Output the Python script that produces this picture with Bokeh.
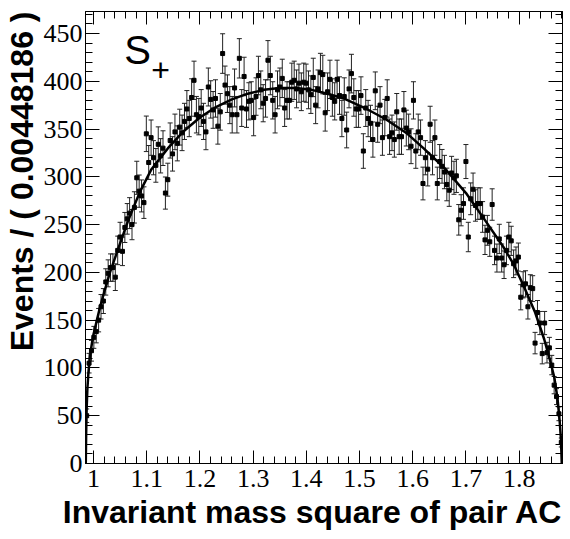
from bokeh.plotting import figure
from bokeh.models import Range1d, LinearAxis, FixedTicker, SingleIntervalTicker, Title, Label, ColumnDataSource
from bokeh.embed import file_html
from bokeh.resources import INLINE
import math

# ---- data ----
bin_width = 0.00448186
x_lo = 0.985
n_bins = 200
x_hi = x_lo + n_bins * bin_width

counts = [
    50, 105, 118, 132, 138, 150, 164, 170, 190, 199,
    205, 205, 195, 223, 237, 222, 247, 256, 262, 250,
    268, 299, 285, 280, 273, 345, 315, 341, 320, 312,
    334, 322, 330, 283, 297, 338, 324, 347, 335, 352,
    346, 358, 371, 361, 383, 401, 365, 363, 372, 358,
    347, 394, 381, 370, 382, 353, 368, 429, 396, 387,
    375, 365, 393, 365, 424, 372, 405, 371, 379, 380,
    362, 384, 406, 391, 377, 382, 422, 406, 380, 365,
    391, 394, 403, 372, 380, 380, 399, 401, 392, 398,
    389, 399, 398, 391, 386, 404, 375, 392, 409, 407,
    367, 389, 402, 383, 379, 402, 385, 361, 384, 349,
    392, 408, 383, 371, 371, 385, 327, 372, 361, 356,
    339, 390, 355, 375, 341, 362, 382, 342, 346, 339,
    368, 342, 342, 370, 351, 347, 332, 380, 327, 347,
    341, 293, 320, 308, 355, 320, 341, 293, 316, 311,
    305, 292, 286, 304, 299, 301, 255, 265, 272, 316,
    237, 277, 287, 270, 272, 272, 258, 234, 244, 232,
    271, 223, 215, 235, 215, 208, 223, 237, 233, 209,
    212, 216, 174, 187, 188, 164, 184, 183, 126, 158,
    147, 115, 147, 116, 121, 103, 82, 70, 52, 22,
]

curve_x = [0.9855, 0.9862, 0.9870, 0.9885, 0.9905, 0.9930, 0.9960, 1.000, 1.006, 1.012,
           1.021, 1.031, 1.046, 1.065, 1.087, 1.109, 1.140, 1.170, 1.200, 1.230,
           1.260, 1.290, 1.320, 1.350, 1.380, 1.410, 1.440, 1.470, 1.510, 1.550,
           1.590, 1.620, 1.660, 1.700, 1.734, 1.771, 1.790, 1.809, 1.830, 1.847,
           1.858, 1.866, 1.872, 1.876, 1.8785, 1.8800]
curve_y = [0, 30, 55, 78, 95, 110, 122, 135, 149, 163,
           181, 200, 224, 254, 284, 308, 330, 348, 362, 373,
           381, 387, 391, 393, 393, 391, 387, 382, 372, 360,
           345, 330, 309, 283, 256, 226, 208, 185, 158, 130,
           108, 90, 68, 45, 25, 0]

x_ticks = [1.0, 1.1, 1.2, 1.3, 1.4, 1.5, 1.6, 1.7, 1.8]
x_tick_labels = ["1", "1.1", "1.2", "1.3", "1.4", "1.5", "1.6", "1.7", "1.8"]
y_max = 473

x_title = "Invariant mass square of pair AC"
y_title = "Events / ( 0.00448186 )"

# ---- derived ----
centers = [x_lo + (i + 0.5) * bin_width for i in range(n_bins)]
err = [math.sqrt(c) for c in counts]
src = ColumnDataSource(dict(
    x=centers, y=counts,
    lo=[c - e for c, e in zip(counts, err)],
    hi=[c + e for c, e in zip(counts, err)],
))
x_minor = [round(0.98 + 0.02 * k, 4) for k in range(0, 46)]

p = figure(width=570, height=539, output_backend="svg", toolbar_location=None,
           x_range=Range1d(x_lo, x_hi), y_range=Range1d(0, y_max),
           x_axis_location=None, y_axis_location=None,
           min_border_left=85, min_border_right=8, min_border_top=11, min_border_bottom=76)
p.grid.visible = False
p.outline_line_color = "black"
p.outline_line_width = 1
p.background_fill_color = "white"
p.border_fill_color = "white"


def style(ax, show_labels, major=14, minor=7):
    ax.major_tick_in = major
    ax.major_tick_out = 0
    ax.minor_tick_in = minor
    ax.minor_tick_out = 0
    ax.major_tick_line_color = "black"
    ax.minor_tick_line_color = "black"
    ax.axis_line_color = "black"
    if show_labels:
        ax.major_label_text_font = "Liberation Serif"
        ax.major_label_text_font_size = "26px"
        ax.major_label_text_color = "black"
        ax.major_label_standoff = 3
    else:
        ax.major_label_text_alpha = 0
        ax.major_label_text_font_size = "1px"
        ax.major_label_standoff = 0


xt = FixedTicker(ticks=x_ticks, minor_ticks=x_minor)
bottom = LinearAxis(ticker=xt, major_label_overrides=dict(zip(x_ticks, x_tick_labels)))
style(bottom, True, 13, 7)
bottom.major_label_standoff = 6
top = LinearAxis(ticker=xt)
style(top, False, 13, 7)
left = LinearAxis(ticker=SingleIntervalTicker(interval=50, num_minor_ticks=5))
style(left, True)
right = LinearAxis(ticker=SingleIntervalTicker(interval=50, num_minor_ticks=5))
style(right, False)
p.add_layout(bottom, "below")
p.add_layout(top, "above")
p.add_layout(left, "left")
p.add_layout(right, "right")

p.add_layout(Title(text=x_title, align="right", text_font="Liberation Sans", standoff=4,
                   text_font_style="bold", text_font_size="32px", text_color="black"), "below")
p.add_layout(Title(text=y_title, align="right", text_font="Liberation Sans", standoff=2,
                   text_font_style="bold", text_font_size="32px", text_color="black"), "left")

p.segment(x0="x", y0="lo", x1="x", y1="hi", source=src, line_color="#222222", line_width=1)
p.scatter(x="x", y="lo", source=src, marker="dash", size=5, line_color="#222222", line_width=1)
p.scatter(x="x", y="hi", source=src, marker="dash", size=5, line_color="#222222", line_width=1)
p.scatter(x="x", y="y", source=src, marker="square", size=4, fill_color="black", line_color="black")
p.line(curve_x, curve_y, line_width=2.5, line_color="black")

p.add_layout(Label(x=1.058, y=433, text="S", text_font="Liberation Sans", text_font_size="40px",
                   text_align="left", text_baseline="middle", text_color="black"))
p.add_layout(Label(x=1.126, y=412, text="+", text_font="Liberation Sans", text_font_size="32px",
                   text_align="center", text_baseline="middle", text_color="black"))

open("out.html", "w").write(file_html(p, INLINE))
